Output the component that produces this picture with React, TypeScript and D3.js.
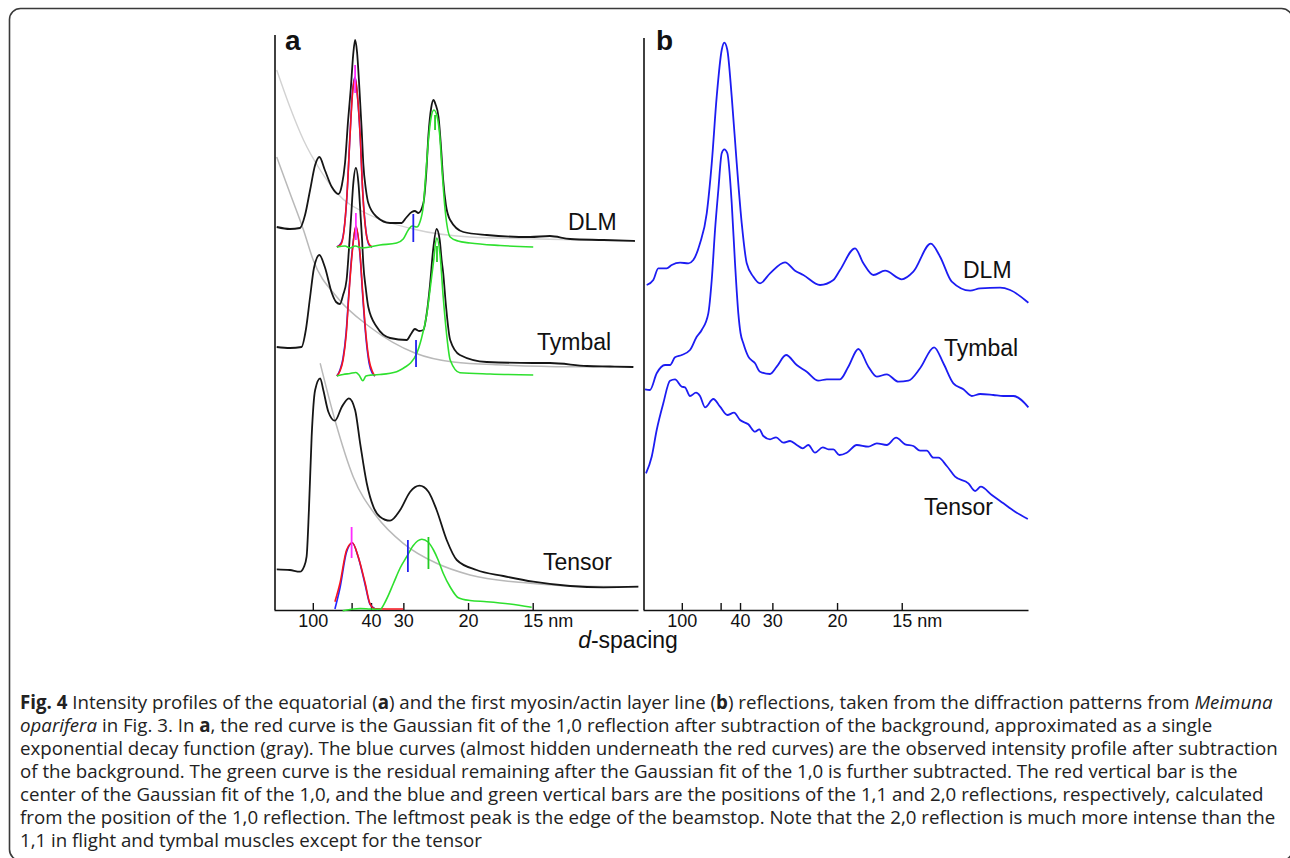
import React, { useEffect, useRef } from 'react';
import * as d3 from 'd3';

type Pt = [number, number];

// x: reciprocal spacing (10^-3 nm^-1), y: intensity (a.u.)
const tickSpacingsNm = [100, 50, 40, 30, 20, 15];
const tickLabels = ['100', '', '40', '30', '20', '15 nm'];

// ---- panel a : equatorial profiles ----
const dlmObserved: Pt[] = [[0.7,383],[4.1,381],[6.7,382],[8.0,395],[9.3,420],[10.6,445],[11.7,453],[13.1,440],[14.9,423],[16.6,416],[17.5,425],[18.3,447],[19.1,490],[19.8,522],[20.4,555],[20.9,570],[21.4,558],[22.0,522],[22.6,480],[23.0,447],[23.7,420],[24.3,407],[26.5,393],[29.9,387],[32.9,387],[34.0,392],[35.5,398],[36.3,399],[37.2,397],[38.5,407],[39.2,435],[39.8,475],[40.5,502],[41.1,510],[41.6,506],[42.4,493],[43.0,465],[43.6,430],[44.3,405],[45.4,390],[48.8,378],[54.8,375],[66.0,373],[71.1,374],[76.3,371],[84.9,370],[93.0,369]];
const dlmBackground: Pt[] = [[0.7,540],[4.1,503],[7.6,470],[11.9,440],[16.2,417],[24.7,395],[35.8,381],[50.5,373],[67.8,371],[93.0,369]];
const dlmSubtracted: Pt[] = [[16.2,363],[17.3,367],[18.0,379],[18.8,414],[19.6,476],[20.2,517],[20.9,533],[21.5,514],[22.2,474],[22.9,416],[23.7,379],[24.5,365],[25.3,363]];
const dlmFit: Pt[] = [[16.2,363],[17.3,366],[18.0,378],[18.8,415],[19.6,475],[20.2,515],[20.9,532],[21.5,515],[22.2,475],[22.9,415],[23.7,378],[24.5,366],[25.3,363]];
const dlmResidual: Pt[] = [[16.2,363],[18.3,364],[19.6,362],[20.9,364],[22.7,362],[27.3,365],[31.6,367],[33.3,371],[34.6,380],[35.6,384],[36.8,383],[37.6,388],[38.5,405],[39.2,440],[39.8,470],[40.5,493],[41.2,500],[42.0,494],[42.7,475],[43.3,440],[44.1,400],[45.4,373],[47.4,369],[50.5,367],[58.3,364.5],[66.8,363]];

const tymbalObserved: Pt[] = [[0.7,263],[4.1,262],[7.1,263],[8.2,280],[9.3,313],[10.3,342],[11.7,355],[13.1,343],[14.9,317],[16.0,308],[17.0,306],[17.8,315],[18.7,330],[19.3,360],[19.9,395],[20.4,425],[21.1,442],[21.8,425],[22.3,395],[22.7,370],[23.0,347],[23.7,320],[24.3,303],[26.5,283],[29.9,272],[34.2,270],[35.3,276],[36.3,281],[37.4,279],[38.5,280],[39.3,295],[40.2,325],[41.0,360],[41.9,381],[42.7,370],[43.2,350],[43.6,337],[44.3,305],[45.4,270],[47.9,255],[54.8,248],[66.8,247],[71.1,247],[80.6,244],[86.6,243.5],[92.6,243]];
const tymbalBackground: Pt[] = [[0.7,453],[4.1,417],[7.6,380],[10.1,350],[16.2,313],[24.7,283],[36.3,257],[46.2,248],[59.1,245],[76.3,243.3],[92.6,243.3]];
const tymbalSubtracted: Pt[] = [[16.2,234],[17.0,240],[17.8,252],[18.6,278],[19.3,318],[20.1,357],[21.1,383],[22.2,353],[22.9,312],[23.7,272],[24.5,247],[25.3,237],[26.0,234]];
const tymbalFit: Pt[] = [[16.2,234],[17.0,239],[17.8,250],[18.6,275],[19.3,315],[20.1,355],[21.1,384],[22.2,355],[22.9,315],[23.7,275],[24.5,250],[25.3,239],[26.0,234]];
const tymbalResidual: Pt[] = [[16.2,234],[17.8,235.5],[19.6,236.5],[21.1,237.5],[21.9,235],[22.9,229.3],[23.7,234],[25.3,235],[27.3,235.5],[31.6,238.3],[33.8,243],[35.1,246.7],[36.8,256.7],[37.9,270],[39.4,296.7],[40.2,320],[41.1,348],[41.9,372],[42.8,355],[43.6,313.3],[44.5,275],[45.4,250],[47.9,237.3],[55.7,236],[66.8,235]];

const tensorObserved: Pt[] = [[0.7,40.7],[4.1,40],[6.7,38.3],[7.7,43],[8.4,53.3],[9.0,100],[9.7,173.3],[10.6,220],[11.9,231.7],[12.7,220],[14.0,198.3],[15.7,189.3],[17.5,203.3],[19.3,211.7],[20.9,200],[22.2,166.7],[23.9,126.7],[25.6,103.3],[27.3,93.3],[29.9,89.3],[32.5,100],[35.1,118.3],[37.5,124.3],[39.8,118.3],[41.9,100],[44.5,70],[47.1,50],[52.2,40],[59.1,34],[66.8,28.3],[76.3,24],[84.9,22.7],[93.9,23.3]];
const tensorBackground: Pt[] = [[11.9,246.7],[15.7,190],[20.4,133.3],[26.5,93.3],[33.3,66.7],[41.9,46.7],[50.5,35],[66.0,26.7],[76.3,24],[93.8,23.3]];
const tensorSubtracted: Pt[] = [[15.7,1],[17.0,22],[18.7,58],[20.2,67],[21.7,53],[23.5,25],[24.7,6],[26.0,1.3],[26.8,0.5]];
const tensorFit: Pt[] = [[15.7,8.3],[17.0,26.7],[18.7,60],[20.2,67.3],[21.7,53.3],[23.5,26.7],[24.7,6.7],[26.0,1.3],[33.3,1]];
const tensorResidual: Pt[] = [[17.7,-0.7],[19.6,0.5],[22.2,1.5],[24.7,1],[27.3,0.7],[28.9,10],[30.8,26.7],[32.5,42],[34.2,53.3],[35.8,64],[38.1,70.7],[39.7,68],[41.1,60],[42.3,50],[43.6,36.7],[45.4,23],[47.5,12.3],[50.5,9.5],[54.8,8.3],[60.8,6],[66.4,2.7]];

// reflection markers: [q, low, high]
const centre10: [number, number, number][] = [[20.9,517,545],[21.1,370,397],[20.0,52,83]];
const position11: [number, number, number][] = [[35.9,368,396],[36.6,243,270],[34.5,38,70]];
const position20: [number, number, number][] = [[41.5,480,495],[42.0,348,364],[39.8,41,73]];

// ---- panel b : first myosin/actin layer line ----
const dlmLayer: Pt[] = [[0.95,325],[2.65,330],[3.94,341.7],[6.11,341.7],[7.4,345],[9.54,347.3],[11.68,346.7],[12.96,350],[14.69,366.7],[16.42,396.7],[17.71,446.7],[18.99,513.3],[20.28,560],[20.95,567.3],[21.73,560],[22.86,513.3],[24.15,446.7],[25.44,386.7],[26.73,346.7],[28.43,333.3],[30.15,326.7],[32.73,336.7],[36.6,347.7],[39.18,339.3],[41.31,335],[45.62,325],[49.05,330],[50.77,340],[54.64,361.7],[56.78,346.7],[59.36,335],[62.37,339.3],[66.68,330.7],[69.66,338.3],[74.15,366.3],[76.55,353.3],[79.56,328.3],[84.28,319.3],[86.86,321.7],[92.01,322.3],[94.59,320],[99.3,307.3]];
const tymbalLayer: Pt[] = [[0.52,220.7],[1.8,220],[3.53,236.7],[5.67,245],[6.96,245],[8.25,252.7],[9.97,255],[12.11,260],[13.84,273.3],[15.13,280],[16.83,296.7],[17.71,330],[18.56,380],[19.41,420],[20.28,456.7],[20.95,460.7],[21.73,456.7],[22.86,406.7],[23.71,346.7],[24.56,296.7],[25.13,277],[25.85,266.7],[27.14,253.3],[28.87,246.7],[30.15,238.3],[32.73,236],[34.46,243.3],[36.86,255],[39.61,245],[42.19,238.3],[45.18,229.3],[47.35,230.7],[50.77,230.7],[52.91,243.3],[55.49,261],[58.07,243.3],[60.23,233.3],[62.81,235.7],[65.8,228.3],[68.38,229.3],[71.39,241.7],[75.0,262.7],[77.4,246.7],[79.97,226.7],[82.55,220.7],[84.72,214],[86.86,216],[90.28,215],[92.86,214],[95.44,214],[99.3,202.7]];
const tensorLayer: Pt[] = [[0.77,136.7],[2.24,153.3],[3.53,180],[5.23,206.7],[6.96,229.3],[8.25,230.7],[9.97,223.3],[10.82,222.7],[12.11,214],[13.66,217.3],[14.69,214],[15.98,202.7],[18.12,211],[19.85,203.3],[21.73,195],[23.45,197.3],[25.0,190],[27.14,185.7],[28.87,178.3],[29.97,180.7],[31.01,174],[32.73,170.7],[34.28,172.7],[36.16,167.3],[37.89,169],[39.61,165],[41.16,161.7],[42.6,165],[44.33,157.3],[46.31,162.7],[47.76,160.7],[49.05,160.7],[50.59,155],[52.5,157.3],[55.08,165],[58.07,163.3],[60.23,166.7],[62.81,165],[65.21,172.3],[67.53,165.7],[69.66,164],[71.39,159.3],[73.12,159.3],[74.82,152.3],[76.11,152.3],[78.27,144],[80.41,133.3],[83.84,126.7],[85.57,119],[87.04,123.3],[89.87,115],[92.86,106.7],[95.88,98.3],[99.15,91]];

const muscleNames = ['DLM', 'Tymbal', 'Tensor'];

const captionLines: [string, string][][] = [
  [['Fig. 4', 'b'], [' Intensity profiles of the equatorial (', ''], ['a', 'b'], [') and the first myosin/actin layer line (', ''], ['b', 'b'], [') reflections, taken from the diffraction patterns from ', ''], ['Meimuna', 'i']],
  [['oparifera', 'i'], [' in Fig. 3. In ', ''], ['a', 'b'], [', the red curve is the Gaussian fit of the 1,0 reflection after subtraction of the background, approximated as a single', '']],
  [['exponential decay function (gray). The blue curves (almost hidden underneath the red curves) are the observed intensity profile after subtraction', '']],
  [['of the background. The green curve is the residual remaining after the Gaussian fit of the 1,0 is further subtracted. The red vertical bar is the', '']],
  [['center of the Gaussian fit of the 1,0, and the blue and green vertical bars are the positions of the 1,1 and 2,0 reflections, respectively, calculated', '']],
  [['from the position of the 1,0 reflection. The leftmost peak is the edge of the beamstop. Note that the 2,0 reflection is much more intense than the', '']],
  [['1,1 in flight and tymbal muscles except for the tensor', '']],
];

const FONT = "'Liberation Sans', Arial, sans-serif";

const App = () => {
  const ref = useRef<SVGSVGElement>(null);

  useEffect(() => {
    const svg = d3.select(ref.current);
    svg.selectAll('*').remove();

    // frame
    svg.append('rect')
      .attr('x', 9.5).attr('y', 8.5)
      .attr('width', 1283).attr('height', 852)
      .attr('rx', 11)
      .attr('fill', 'none')
      .attr('stroke', '#3a3a3a')
      .attr('stroke-width', 1.6);

    const y = d3.scaleLinear().domain([0, 575]).range([610, 35]);
    const xA = d3.scaleLinear().domain([0, 93.8]).range([274, 638]);
    const xB = d3.scaleLinear().domain([0, 99.2]).range([643, 1028]);
    const tickQ = tickSpacingsNm.map(d => 1000 / d);

    const drawAxes = (x: d3.ScaleLinear<number, number>, top: number) => {
      const ax = svg.append('g')
        .attr('transform', `translate(0,${y(0)})`)
        .call(d3.axisBottom(x).tickValues(tickQ).tickFormat((_d, i) => tickLabels[i]).tickSize(-7).tickSizeOuter(0).tickPadding(4));
      ax.select('.domain').attr('stroke', '#111').attr('stroke-width', 1.6);
      ax.selectAll('.tick line').attr('stroke', '#111').attr('stroke-width', 1.4);
      ax.selectAll('.tick text')
        .attr('font-family', FONT).attr('font-size', 18).attr('fill', '#111');
      ax.selectAll('.tick text').filter((_d, i) => i === 5)
        .attr('text-anchor', 'start').attr('x', -10);
      svg.append('line')
        .attr('x1', x(0) + 1).attr('x2', x(0) + 1)
        .attr('y1', y(0)).attr('y2', y(top))
        .attr('stroke', '#111').attr('stroke-width', 1.6);
    };
    drawAxes(xA, 575);
    drawAxes(xB, 572);

    const drawCurve = (x: d3.ScaleLinear<number, number>, data: Pt[], color: string, w: number) => {
      const line = d3.line<Pt>().x(d => x(d[0])).y(d => y(d[1])).curve(d3.curveMonotoneX);
      svg.append('path').datum(data)
        .attr('d', line)
        .attr('fill', 'none')
        .attr('stroke', color)
        .attr('stroke-width', w)
        .attr('stroke-linejoin', 'round');
    };

    // panel a
    drawCurve(xA, dlmBackground, '#d2d2d2', 1.4);
    drawCurve(xA, tymbalBackground, '#b9b9b9', 1.5);
    drawCurve(xA, tensorBackground, '#b9b9b9', 1.5);
    [dlmObserved, tymbalObserved, tensorObserved].forEach(c => drawCurve(xA, c, '#161616', 1.8));
    [dlmSubtracted, tymbalSubtracted, tensorSubtracted].forEach(c => drawCurve(xA, c, '#2424ff', 1.6));
    [dlmFit, tymbalFit, tensorFit].forEach(c => drawCurve(xA, c, '#f8141e', 1.6));
    [dlmResidual, tymbalResidual, tensorResidual].forEach(c => drawCurve(xA, c, '#2ee02e', 1.6));

    const drawBars = (data: [number, number, number][], color: string) => {
      svg.append('g').selectAll('line').data(data).enter().append('line')
        .attr('x1', d => xA(d[0])).attr('x2', d => xA(d[0]))
        .attr('y1', d => y(d[1])).attr('y2', d => y(d[2]))
        .attr('stroke', color).attr('stroke-width', 1.8);
    };
    drawBars(centre10, '#ff2cff');
    drawBars(position11, '#2222ee');
    drawBars(position20, '#22cc22');

    // panel b
    [dlmLayer, tymbalLayer, tensorLayer].forEach(c => drawCurve(xB, c, '#1c1cf2', 1.8));

    // labels
    const labelA = [[568, 230], [537, 350], [543, 569.5]];
    const labelB = [[963, 277.5], [944, 356], [924, 514.5]];
    [labelA, labelB].forEach(pos => {
      svg.append('g').selectAll('text').data(muscleNames).enter().append('text')
        .attr('x', (_d, i) => pos[i][0]).attr('y', (_d, i) => pos[i][1])
        .attr('font-family', FONT).attr('font-size', 23).attr('fill', '#111')
        .text(d => d);
    });

    svg.append('text').attr('x', 285).attr('y', 50)
      .attr('font-family', FONT).attr('font-size', 28).attr('font-weight', 'bold').attr('fill', '#111').text('a');
    svg.append('text').attr('x', 656).attr('y', 50)
      .attr('font-family', FONT).attr('font-size', 28).attr('font-weight', 'bold').attr('fill', '#111').text('b');

    const xl = svg.append('text').attr('x', 628).attr('y', 648)
      .attr('text-anchor', 'middle')
      .attr('font-family', FONT).attr('font-size', 23).attr('fill', '#111');
    xl.append('tspan').attr('font-style', 'italic').text('d');
    xl.append('tspan').text('-spacing');

    // caption
    captionLines.forEach((segs, i) => {
      const t = svg.append('text')
        .attr('x', 20).attr('y', 709 + i * 23)
        .attr('font-family', "'Open Sans', sans-serif").attr('font-size', 18.7)
        .attr('fill', '#222')
        .style('white-space', 'pre');
      segs.forEach(([s, st]) => {
        const ts = t.append('tspan').text(s);
        if (st === 'b') ts.attr('font-weight', 'bold');
        if (st === 'i') ts.attr('font-style', 'italic');
      });
    });
  }, []);

  return (
    <svg ref={ref} width={1290} height={858}
      style={{ position: 'absolute', left: 0, top: 0, background: '#fff' }} />
  );
};

export default App;
